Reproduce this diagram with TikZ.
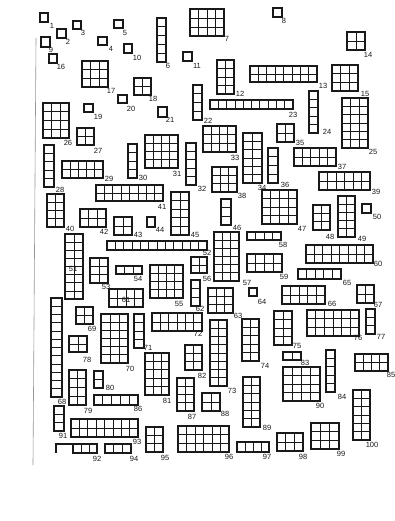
\documentclass[tikz,border=0pt]{standalone}
\usepackage{fontspec}
\setmainfont{Liberation Sans}
\usepackage{xcolor}
\usepackage{tikz}
\usetikzlibrary{calc}
\definecolor{InkBlack}{RGB}{25,25,25}
\definecolor{EdgeGray}{RGB}{150,150,150}

% booth: x1, y1, x2, y2, columns, rows
\newcommand{\booth}[6]{%
  \ifnum#5>1
    \foreach \i in {2,...,#5}{\draw[cellline] ({#1+(\i-1)*(#3-#1)/#5},#2) -- ({#1+(\i-1)*(#3-#1)/#5},#4);}
  \fi
  \ifnum#6>1
    \foreach \j in {2,...,#6}{\draw[cellline] (#1,{#2+(\j-1)*(#4-#2)/#6}) -- (#3,{#2+(\j-1)*(#4-#2)/#6});}
  \fi
  \draw[boothline] (#1,#2) rectangle (#3,#4);
}

\begin{document}
\begin{tikzpicture}[
  x=1pt, y=-1pt,
  boothline/.style={draw=InkBlack, line width=1.3pt},
  cellline/.style={draw=InkBlack, line width=0.7pt},
  num/.style={inner sep=0pt, font=\fontsize{7.5}{8}\selectfont, text=InkBlack},
  edgeline/.style={draw=EdgeGray, line width=0.6pt}
]
  \useasboundingbox[fill=white] (0,0) rectangle (395,521);

  % Page edge
  \draw[edgeline] (36,38) -- (33,465);

  % Booths
  \booth{40}{13}{48}{22}{1}{1}   \node[num] (l1) at (52,26) {1};
  \booth{57}{29}{66}{38}{1}{1}   \node[num] (l2) at (68,42) {2};
  \booth{73}{21}{81}{29}{1}{1}   \node[num] (l3) at (83,33) {3};
  \booth{98}{37}{107}{45}{1}{1}  \node[num] (l4) at (111,49) {4};
  \booth{114}{20}{123}{28}{1}{1} \node[num] (l5) at (125,33) {5};
  \booth{157}{18}{166}{62}{1}{5} \node[num] (l6) at (168,66) {6};
  \booth{190}{9}{224}{36}{4}{3}  \node[num] (l7) at (227,39) {7};
  \booth{273}{8}{282}{17}{1}{1}  \node[num] (l8) at (284,21) {8};
  \booth{41}{37}{50}{47}{1}{1}   \node[num] (l9) at (51,50) {9};
  \booth{124}{44}{132}{53}{1}{1} \node[num] (l10) at (137,58) {10};
  \booth{183}{52}{192}{61}{1}{1} \node[num] (l11) at (197,66) {11};
  \booth{217}{60}{234}{94}{2}{4} \node[num] (l12) at (240,94) {12};
  \booth{250}{66}{317}{82}{8}{2} \node[num] (l13) at (323,86) {13};
  \booth{347}{32}{365}{50}{2}{2} \node[num] (l14) at (368,55) {14};
  \booth{332}{65}{358}{91}{3}{3} \node[num] (l15) at (365,94) {15};
  \booth{49}{54}{57}{63}{1}{1}   \node[num] (l16) at (61,67) {16};
  \booth{82}{61}{108}{87}{3}{3}  \node[num] (l17) at (111,91) {17};
  \booth{134}{78}{151}{95}{2}{2} \node[num] (l18) at (153,99) {18};
  \booth{84}{104}{93}{112}{1}{1} \node[num] (l19) at (98,117) {19};
  \booth{118}{95}{127}{103}{1}{1} \node[num] (l20) at (131,109) {20};
  \booth{158}{107}{167}{117}{1}{1} \node[num] (l21) at (170,120) {21};
  \booth{193}{85}{202}{120}{1}{4} \node[num] (l22) at (208,121) {22};
  \booth{210}{100}{293}{109}{10}{1} \node[num] (l23) at (293,115) {23};
  \booth{309}{91}{318}{133}{1}{5} \node[num] (l24) at (327,132) {24};
  \booth{342}{98}{368}{148}{3}{6} \node[num] (l25) at (373,152) {25};
  \booth{43}{103}{69}{138}{3}{4} \node[num] (l26) at (68,143) {26};
  \booth{77}{128}{94}{145}{2}{2} \node[num] (l27) at (98,151) {27};
  \booth{44}{145}{54}{187}{1}{5} \node[num] (l28) at (60,190) {28};
  \booth{62}{161}{103}{178}{5}{2} \node[num] (l29) at (109,179) {29};
  \booth{128}{144}{137}{178}{1}{4} \node[num] (l30) at (143,178) {30};
  \booth{145}{135}{178}{168}{4}{4} \node[num] (l31) at (177,174) {31};
  \booth{186}{143}{196}{185}{1}{5} \node[num] (l32) at (202,189) {32};
  \booth{203}{126}{236}{152}{4}{3} \node[num] (l33) at (235,158) {33};
  \booth{243}{133}{262}{183}{2}{6} \node[num] (l34) at (262,188) {34};
  \booth{277}{124}{294}{142}{2}{2} \node[num] (l35) at (300,143) {35};
  \booth{268}{148}{278}{183}{1}{4} \node[num] (l36) at (285,185) {36};
  \booth{294}{148}{336}{166}{5}{2} \node[num] (l37) at (342,167) {37};
  \booth{212}{167}{237}{192}{3}{3} \node[num] (l38) at (242,196) {38};
  \booth{319}{172}{370}{190}{6}{2} \node[num] (l39) at (376,192) {39};
  \booth{47}{194}{64}{227}{2}{4} \node[num] (l40) at (70,229) {40};
  \booth{96}{185}{163}{201}{8}{2} \node[num] (l41) at (162,207) {41};
  \booth{80}{209}{106}{227}{3}{2} \node[num] (l42) at (104,232) {42};
  \booth{114}{217}{132}{235}{2}{2} \node[num] (l43) at (138,235) {43};
  \booth{147}{217}{155}{227}{1}{1} \node[num] (l44) at (160,230) {44};
  \booth{171}{192}{189}{235}{2}{5} \node[num] (l45) at (195,235) {45};
  \booth{221}{199}{231}{225}{1}{3} \node[num] (l46) at (237,228) {46};
  \booth{262}{190}{297}{224}{4}{4} \node[num] (l47) at (302,229) {47};
  \booth{313}{205}{330}{230}{2}{3} \node[num] (l48) at (330,237) {48};
  \booth{338}{196}{355}{237}{2}{5} \node[num] (l49) at (362,239) {49};
  \booth{362}{204}{371}{213}{1}{1} \node[num] (l50) at (377,217) {50};
  \booth{65}{234}{83}{299}{2}{8} \node[num] (l51) at (73,269) {51};
  \booth{107}{241}{207}{250}{12}{1} \node[num] (l52) at (207,253) {52};
  \booth{90}{258}{108}{283}{2}{3} \node[num] (l53) at (106,287) {53};
  \booth{116}{266}{142}{274}{3}{1} \node[num] (l54) at (138,279) {54};
  \booth{150}{265}{183}{298}{4}{4} \node[num] (l55) at (179,304) {55};
  \booth{191}{257}{207}{273}{2}{2} \node[num] (l56) at (207,279) {56};
  \booth{214}{232}{239}{281}{3}{6} \node[num] (l57) at (247,283) {57};
  \booth{247}{232}{281}{240}{4}{1} \node[num] (l58) at (283,245) {58};
  \booth{247}{254}{282}{272}{4}{2} \node[num] (l59) at (284,277) {59};
  \booth{306}{245}{373}{263}{8}{2} \node[num] (l60) at (378,264) {60};
  \booth{109}{289}{143}{307}{4}{2} \node[num] (l61) at (126,300) {61};
  \booth{191}{280}{200}{306}{1}{3} \node[num] (l62) at (200,309) {62};
  \booth{208}{288}{233}{313}{3}{3} \node[num] (l63) at (238,316) {63};
  \booth{249}{288}{257}{296}{1}{1} \node[num] (l64) at (262,302) {64};
  \booth{298}{269}{341}{279}{5}{1} \node[num] (l65) at (347,283) {65};
  \booth{282}{286}{325}{304}{5}{2} \node[num] (l66) at (332,304) {66};
  \booth{357}{285}{374}{303}{2}{2} \node[num] (l67) at (378,305) {67};
  \booth{51}{298}{62}{397}{1}{12} \node[num] (l68) at (62,402) {68};
  \booth{76}{307}{93}{324}{2}{2} \node[num] (l69) at (92,329) {69};
  \booth{101}{314}{128}{363}{3}{6} \node[num] (l70) at (130,369) {70};
  \booth{134}{314}{144}{348}{1}{4} \node[num] (l71) at (148,348) {71};
  \booth{152}{313}{202}{331}{6}{2} \node[num] (l72) at (198,334) {72};
  \booth{210}{320}{227}{386}{2}{8} \node[num] (l73) at (232,391) {73};
  \booth{242}{319}{259}{361}{2}{5} \node[num] (l74) at (265,366) {74};
  \booth{274}{311}{292}{345}{2}{4} \node[num] (l75) at (297,346) {75};
  \booth{307}{310}{359}{336}{6}{3} \node[num] (l76) at (358,338) {76};
  \booth{366}{309}{375}{334}{1}{3} \node[num] (l77) at (381,337) {77};
  \booth{69}{336}{87}{352}{2}{2} \node[num] (l78) at (87,360) {78};
  \booth{69}{370}{86}{405}{2}{4} \node[num] (l79) at (88,411) {79};
  \booth{94}{371}{103}{388}{1}{2} \node[num] (l80) at (110,388) {80};
  \booth{145}{353}{169}{395}{3}{5} \node[num] (l81) at (167,401) {81};
  \booth{185}{345}{202}{370}{2}{3} \node[num] (l82) at (202,376) {82};
  \booth{283}{352}{301}{360}{2}{1} \node[num] (l83) at (305,363) {83};
  \booth{326}{350}{335}{392}{1}{5} \node[num] (l84) at (342,397) {84};
  \booth{355}{354}{388}{371}{4}{2} \node[num] (l85) at (391,375) {85};
  \booth{94}{395}{138}{405}{5}{1} \node[num] (l86) at (138,409) {86};
  \booth{177}{378}{194}{411}{2}{4} \node[num] (l87) at (192,417) {87};
  \booth{202}{393}{220}{411}{2}{2} \node[num] (l88) at (225,414) {88};
  \booth{243}{377}{260}{427}{2}{6} \node[num] (l89) at (267,428) {89};
  \booth{283}{367}{320}{401}{4}{4} \node[num] (l90) at (320,406) {90};
  \booth{54}{406}{64}{431}{1}{3} \node[num] (l91) at (63,436) {91};
  % open booth 92
  \draw[boothline] (56,453) -- (56,444) -- (73,444);
  \booth{73}{444}{97}{453}{3}{1} \node[num] (l92) at (97,459) {92};
  \booth{71}{419}{138}{437}{8}{2} \node[num] (l93) at (137,442) {93};
  \booth{105}{444}{131}{453}{3}{1} \node[num] (l94) at (134,459) {94};
  \booth{146}{427}{163}{452}{2}{3} \node[num] (l95) at (165,458) {95};
  \booth{178}{426}{229}{452}{6}{3} \node[num] (l96) at (229,457) {96};
  \booth{237}{442}{269}{452}{4}{1} \node[num] (l97) at (267,457) {97};
  \booth{277}{433}{303}{451}{3}{2} \node[num] (l98) at (303,457) {98};
  \booth{311}{423}{339}{449}{3}{3} \node[num] (l99) at (341,454) {99};
  \booth{353}{390}{370}{440}{2}{6} \node[num] (l100) at (372,445) {100};
\end{tikzpicture}
\end{document}
